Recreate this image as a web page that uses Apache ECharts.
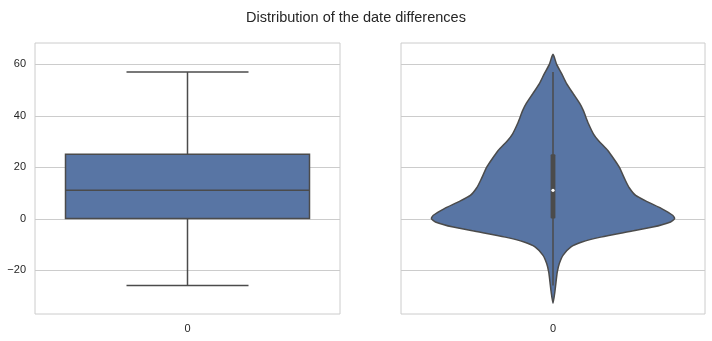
<!DOCTYPE html>
<html>
<head>
<meta charset="utf-8">
<script src="https://cdn.jsdelivr.net/npm/echarts@6/dist/echarts.min.js"></script>
<style>
  html, body { margin: 0; padding: 0; background: #ffffff; }
  #chart { width: 712px; height: 341px; }
</style>
</head>
<body>
<div id="chart"></div>
<script>
// Category on the x axis of both panels
const categories = ['0'];

// Box plot statistics: lower whisker, Q1, median, Q3, upper whisker
const boxStats = [-26, 0, 11, 25, 57];

// Violin outline: values along y and relative density (1 = widest point)
const violinValues = [63.9, 60.0, 56.4, 52.5, 48.6, 44.7, 42.0, 40.0, 37.0, 33.0, 30.4, 26.5, 22.7, 20.0, 15.0, 12.0, 9.0, 6.5, 3.9, 1.3, 0, -1.3, -3.3, -5.2, -7.2, -9.1, -11.0, -14.3, -17.5, -20.8, -24.6, -28.6, -32.9];
const violinDensity = [0, 0.030, 0.071, 0.112, 0.166, 0.221, 0.250, 0.266, 0.291, 0.332, 0.373, 0.451, 0.508, 0.545, 0.594, 0.627, 0.680, 0.779, 0.893, 0.984, 1.0, 0.967, 0.820, 0.607, 0.393, 0.238, 0.148, 0.082, 0.052, 0.035, 0.025, 0.015, 0];

// Shared y axis
const yTicks = [-20, 0, 20, 40, 60];
const yRange = [-37.1, 68.3];

const FILL = '#5875a4';
const EDGE = '#4b4b4b';
const GRID = '#cccccc';
const TEXT = '#262626';
const FONT = '"Liberation Sans", Arial, sans-serif';

const chart = echarts.init(document.getElementById('chart'), null, { renderer: 'canvas' });

function renderGridLines(params, api) {
  const cs = params.coordSys;
  const y = Math.round(api.coord([0, api.value(1)])[1]) + 0.5;
  return {
    type: 'line',
    shape: { x1: cs.x, y1: y, x2: cs.x + cs.width, y2: y },
    style: { stroke: GRID, lineWidth: 1 },
    silent: true
  };
}

function renderBox(params, api) {
  const cx = api.coord([api.value(0), 0])[0];
  const band = api.size([1, 0])[0];
  const y = v => api.coord([api.value(0), v])[1];
  const half = band * 0.4;
  const cap = band * 0.2;
  const lo = y(api.value(1)), q1 = y(api.value(2)), med = y(api.value(3)), q3 = y(api.value(4)), hi = y(api.value(5));
  const line = { stroke: EDGE, lineWidth: 1.5 };
  return {
    type: 'group',
    children: [
      { type: 'line', shape: { x1: cx, y1: q3, x2: cx, y2: hi }, style: line },
      { type: 'line', shape: { x1: cx, y1: q1, x2: cx, y2: lo }, style: line },
      { type: 'line', shape: { x1: cx - cap, y1: hi, x2: cx + cap, y2: hi }, style: line },
      { type: 'line', shape: { x1: cx - cap, y1: lo, x2: cx + cap, y2: lo }, style: line },
      { type: 'rect', shape: { x: cx - half, y: q3, width: half * 2, height: q1 - q3 }, style: { fill: FILL, stroke: EDGE, lineWidth: 1.5 } },
      { type: 'line', shape: { x1: cx - half, y1: med, x2: cx + half, y2: med }, style: line }
    ]
  };
}

function renderViolin(params, api) {
  const idx = api.value(0);
  const cx = api.coord([idx, 0])[0];
  const band = api.size([1, 0])[0];
  const half = band * 0.4;
  const right = [], left = [];
  for (let i = 0; i < violinValues.length; i++) {
    const py = api.coord([idx, violinValues[i]])[1];
    right.push([cx + violinDensity[i] * half, py]);
    left.push([cx - violinDensity[i] * half, py]);
  }
  const outline = right.concat(left.slice(1, -1).reverse());
  const y = v => api.coord([idx, v])[1];
  const lo = y(boxStats[0]), q1 = y(boxStats[1]), med = y(boxStats[2]), q3 = y(boxStats[3]), hi = y(boxStats[4]);
  return {
    type: 'group',
    children: [
      { type: 'polygon', shape: { points: outline, smooth: 0.22 }, style: { fill: FILL, stroke: EDGE, lineWidth: 1.5 } },
      { type: 'line', shape: { x1: cx, y1: hi, x2: cx, y2: lo }, style: { stroke: EDGE, lineWidth: 1.5 } },
      { type: 'rect', shape: { x: cx - 2.4, y: q3, width: 4.8, height: q1 - q3, r: 1 }, style: { fill: EDGE } },
      { type: 'circle', shape: { cx: cx, cy: med, r: 1.6 }, style: { fill: '#ffffff' } }
    ]
  };
}

const yAxisBase = {
  type: 'value',
  min: yRange[0],
  max: yRange[1],
  axisLine: { show: false },
  axisTick: { show: false },
  splitLine: { show: false }
};

const xAxisBase = {
  type: 'category',
  data: categories,
  axisLine: { show: false },
  axisTick: { show: false },
  splitLine: { show: false },
  axisLabel: { color: TEXT, fontSize: 11, fontFamily: FONT, margin: 9 }
};

const gridData = yTicks.map(v => [0, v]);

chart.setOption({
  animation: false,
  backgroundColor: '#ffffff',
  title: {
    text: 'Distribution of the date differences',
    left: 'center',
    top: 5,
    textStyle: { color: TEXT, fontSize: 14.5, fontWeight: 'normal', fontFamily: FONT }
  },
  grid: [
    { left: 35, top: 43, width: 305, height: 271, show: true, borderColor: GRID, borderWidth: 1, backgroundColor: 'transparent' },
    { left: 401, top: 43, width: 304, height: 271, show: true, borderColor: GRID, borderWidth: 1, backgroundColor: 'transparent' }
  ],
  xAxis: [
    Object.assign({ gridIndex: 0 }, xAxisBase),
    Object.assign({ gridIndex: 1 }, xAxisBase)
  ],
  yAxis: [
    Object.assign({ gridIndex: 0 }, yAxisBase, {
      axisLabel: {
        color: TEXT, fontSize: 11, fontFamily: FONT, margin: 9,
        customValues: yTicks,
        formatter: v => String(v).replace('-', '\u2212')
      }
    }),
    Object.assign({ gridIndex: 1 }, yAxisBase, { axisLabel: { show: false } })
  ],
  series: [
    { type: 'custom', xAxisIndex: 0, yAxisIndex: 0, z: 1, silent: true, renderItem: renderGridLines, data: gridData, encode: { x: 0, y: 1 } },
    { type: 'custom', xAxisIndex: 1, yAxisIndex: 1, z: 1, silent: true, renderItem: renderGridLines, data: gridData, encode: { x: 0, y: 1 } },
    { type: 'custom', xAxisIndex: 0, yAxisIndex: 0, z: 2, renderItem: renderBox, data: [[0].concat(boxStats)], encode: { x: 0, y: [1, 2, 3, 4, 5] } },
    { type: 'custom', xAxisIndex: 1, yAxisIndex: 1, z: 2, renderItem: renderViolin, data: [[0, boxStats[2]]], encode: { x: 0, y: 1 } }
  ]
});
</script>
</body>
</html>
